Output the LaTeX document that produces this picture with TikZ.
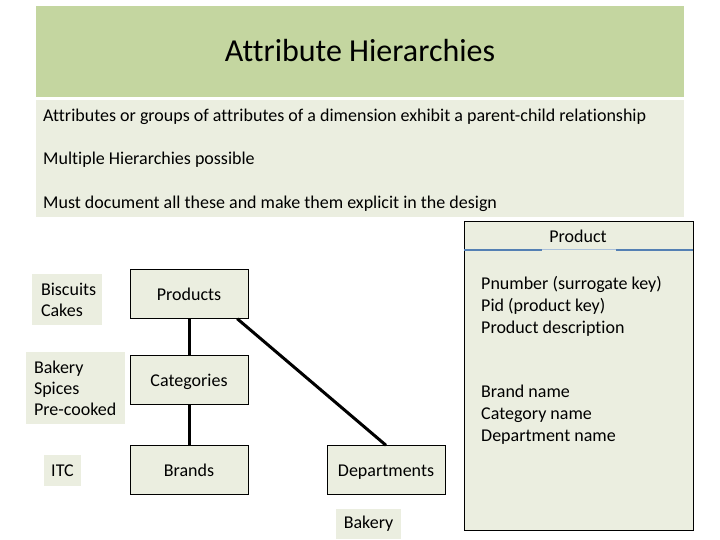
\documentclass[tikz,border=0pt]{standalone}
\usepackage{fontspec}
\setmainfont{Carlito}[Ligatures=NoCommon]
\usepackage{tikz}

\definecolor{titlegreen}{RGB}{196,214,160}
\definecolor{paleback}{RGB}{235,238,224}
\definecolor{headblue}{RGB}{84,128,180}

\begin{document}
\begin{tikzpicture}[x=1pt, y=-1pt,
    font=\fontsize{18}{21}\selectfont,
    level/.style={draw, fill=paleback, minimum width=118pt, minimum height=49pt, inner sep=0pt, text height=13pt, text depth=1pt},
    member/.style={fill=paleback, align=left, inner ysep=0pt},
    attr/.style={anchor=west, inner sep=0pt, text height=13pt, text depth=1pt},
    link/.style={line width=3pt}]
        \useasboundingbox (0,0) rectangle (720,540);

        % title band and bullet band
        \fill[titlegreen] (36,6) rectangle (684,97);
        \node (title) at (360,51) {\fontsize{32}{38}\selectfont Attribute Hierarchies};
        \fill[paleback] (36,100) rectangle (684,217);
        \node[attr] (pointa) at (43,116) {Attributes or groups of attributes of a dimension exhibit a parent-child relationship};
        \node[attr] (pointb) at (43,159) {Multiple Hierarchies possible};
        \node[attr] (pointc) at (43,202) {Must document all these and make them explicit in the design};

        % product dimension table
        \node[draw, fill=paleback, minimum width=229pt, minimum height=309pt, inner sep=0pt] (product) at (578.5,375.5) {};
        \node[attr, anchor=center] (prodhead) at (578,236) {Product};
        \draw[headblue, line width=2pt] (product.west |- 0,250) -- (542,250);
        \draw[headblue, line width=2pt] (616,250) -- (product.east |- 0,250);
        \draw[headblue!50, line width=0.6pt] (542,249) -- (616,249);
        \foreach \y/\txt [count=\i] in {283/Pnumber (surrogate key),305/Pid (product key),327/Product description,
                                        391/Brand name,413/Category name,435/Department name}
            \node[attr] (field\i) at (481,\y) {\txt};

        % hierarchy levels
        \node[level] (products) at (189,294) {Products};
        \node[level] (categories) at (189,380) {Categories};
        \node[level] (brands) at (189,470) {Brands};
        \node[level] (departments) at (386,470) {Departments};

        \draw[link] (products) -- (categories);
        \draw[link] (categories) -- (brands);
        \draw[link] ([xshift=-11pt]products.south east) -- (departments.north);

        % sample members
        \node[member, inner xsep=9pt, text width=52pt, minimum height=51pt] (snacks) at (67,299.5) {Biscuits\\Cakes};
        \node[member, inner xsep=8pt, text width=83pt, minimum height=72pt] (kinds) at (75.5,388) {Bakery\\Spices\\Pre-cooked};
        \node[member, inner xsep=0pt, minimum width=37pt, minimum height=31pt, align=center] (maker) at (62.5,470.5) {ITC};
        \node[member, inner xsep=0pt, minimum width=65pt, minimum height=30pt, align=center] (dept) at (368.5,524) {Bakery};
\end{tikzpicture}
\end{document}
